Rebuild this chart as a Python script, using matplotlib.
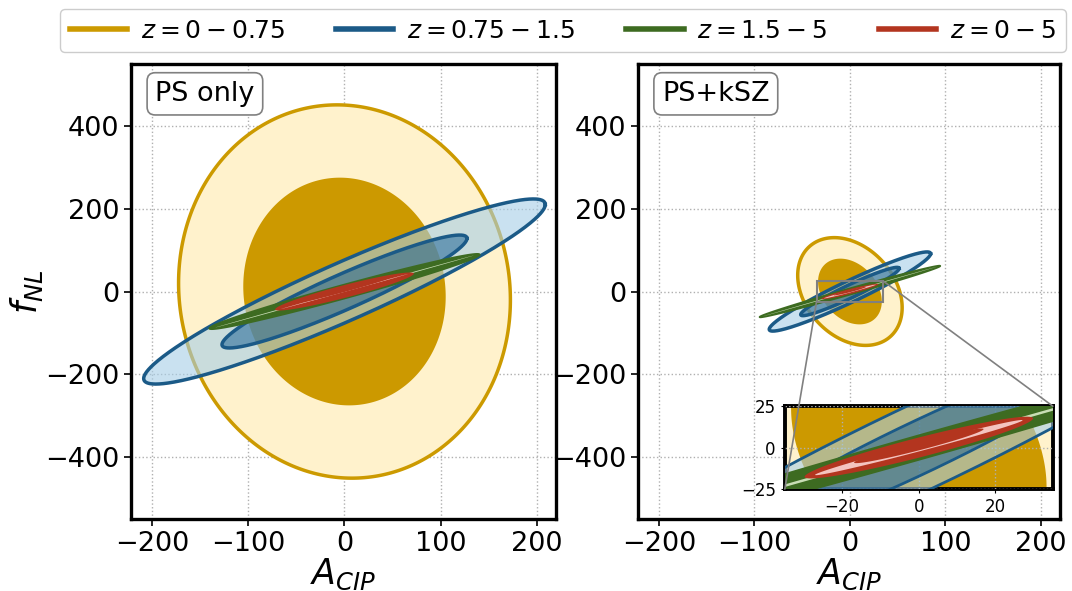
import numpy as np
import matplotlib
matplotlib.use("Agg")
import matplotlib.pyplot as plt
from matplotlib.lines import Line2D
from matplotlib.patches import Rectangle, ConnectionPatch

# ---------------- data ----------------
bin_labels = ['$z=0-0.75$', '$z=0.75-1.5$', '$z=1.5-5$', '$z=0-5$']

# Gaussian (Fisher) ellipse parameters: sigma(A_CIP), sigma(f_NL), correlation
ps_sigA = [69.4, 84.0, 56.5, 29.0]
ps_sigF = [181.5, 90.0, 36.5, 18.5]
ps_rho = [-0.045, 0.94, 0.983, 0.94]

kz_sigA = [22.0, 34.0, 38.0, 12.0]
kz_sigF = [52.4, 38.5, 25.0, 7.5]
kz_rho = [-0.30, 0.955, 0.993, 0.945]

# non-Gaussian inner features of the z=0-5 and z=1.5-5 contours
ps_red_inner = [26.5, 17.0, 0.9998]     # sigA, sigF, rho (pink sliver)
ps_red_core = [18.0, 11.5, 0.99]
kz_red_inner = [10.9, 6.7, 0.99]
kz_red_core = [6.8, 4.2, 0.965]
ps_green_inner = [54.0, 35.0, 0.9999]
kz_green_inner = [36.5, 24.0, 0.9999]

xticks = [-200, -100, 0, 100, 200]
yticks = [-400, -200, 0, 200, 400]
inset_xticks = [-20, 0, 20]
inset_yticks = [-25, 0, 25]
zoom_box = [-35, 35, -25, 25]

# ---------------- style ----------------
K1 = np.sqrt(2.30)
K2 = np.sqrt(6.18)
line_cols = ['#cc9a00', '#1b5a87', '#3d6b21', '#b3351f']

def ellipse(sa, sf, rho, k, n=500):
    t = np.linspace(0, 2 * np.pi, n)
    x = k * sa * np.cos(t)
    y = k * sf * (rho * np.cos(t) + np.sqrt(1 - rho ** 2) * np.sin(t))
    return x, y

def draw(ax, sigA, sigF, rho, red_inner, red_core, green_inner, lw=2.5):
    # z = 0 - 0.75
    x, y = ellipse(sigA[0], sigF[0], rho[0], K2)
    ax.fill(x, y, fc='#fff2cc', ec=line_cols[0], lw=lw, zorder=2)
    x, y = ellipse(sigA[0], sigF[0], rho[0], K1)
    ax.fill(x, y, fc='#cc9900', ec='none', zorder=2)
    # z = 0.75 - 1.5
    x, y = ellipse(sigA[1], sigF[1], rho[1], K2)
    ax.fill(x, y, fc='#a6cee7', alpha=0.6, ec='none', zorder=3)
    ax.plot(x, y, color=line_cols[1], lw=lw, zorder=3)
    x, y = ellipse(sigA[1], sigF[1], rho[1], K1)
    ax.fill(x, y, fc='#1f6496', alpha=0.55, ec='none', zorder=3)
    ax.plot(x, y, color=line_cols[1], lw=lw, zorder=3)
    # z = 1.5 - 5
    x, y = ellipse(sigA[2], sigF[2], rho[2], K2)
    ax.fill(x, y, fc=line_cols[2], ec=line_cols[2], lw=1.4, zorder=4)
    x, y = ellipse(*green_inner, K2)
    ax.fill(x, y, fc='#c9ddb5', ec='none', zorder=4)
    # z = 0 - 5
    x, y = ellipse(sigA[3], sigF[3], rho[3], K2)
    ax.fill(x, y, fc=line_cols[3], ec='none', zorder=5)
    x, y = ellipse(*red_inner, K2)
    ax.fill(x, y, fc='#f4c4c0', ec='none', zorder=5)
    x, y = ellipse(*red_core, K2)
    ax.fill(x, y + red_core[1] * 0.25, fc=line_cols[3], ec='none', zorder=5)

fig = plt.figure(figsize=(10.72, 5.91), dpi=100)
ax1 = fig.add_axes([0.1222, 0.1218, 0.3965, 0.7699])
ax2 = fig.add_axes([0.5951, 0.1218, 0.3937, 0.7699])

for ax, sA, sF, r, ri, rc, gi, name in [
        (ax1, ps_sigA, ps_sigF, ps_rho, ps_red_inner, ps_red_core, ps_green_inner, 'PS only'),
        (ax2, kz_sigA, kz_sigF, kz_rho, kz_red_inner, kz_red_core, kz_green_inner, 'PS+kSZ')]:
    draw(ax, sA, sF, r, ri, rc, gi)
    ax.set_xlim(-222, 220)
    ax.set_ylim(-550, 550)
    ax.set_xticks(xticks)
    ax.set_yticks(yticks)
    ax.tick_params(labelsize=19.5, width=1.2, length=5)
    ax.grid(True, ls=':', color='#b0b0b0', lw=1.0, zorder=0)
    ax.set_axisbelow(True)
    for s in ax.spines.values():
        s.set_linewidth(2.4)
    ax.set_xlabel('$A_{CIP}$', fontsize=25, labelpad=0)
    ax.text(0.057, 0.963, name, transform=ax.transAxes, fontsize=19.5,
            ha='left', va='top', zorder=10,
            bbox=dict(boxstyle='round,pad=0.3', fc='white', ec='gray', lw=1.2))

ax1.set_ylabel('$f_{NL}$', fontsize=25, labelpad=0)

# inset
axins = ax2.inset_axes([0.348, 0.066, 0.635, 0.182])
draw(axins, kz_sigA, kz_sigF, kz_rho, kz_red_inner, kz_red_core, kz_green_inner, lw=2.0)
axins.set_xlim(zoom_box[0], zoom_box[1])
axins.set_ylim(zoom_box[2], zoom_box[3])
axins.set_xticks(inset_xticks)
axins.set_yticks(inset_yticks)
axins.tick_params(labelsize=12, length=3)
axins.grid(True, ls=':', color='#b0b0b0', lw=1.0)
axins.set_axisbelow(False)
for s in axins.spines.values():
    s.set_linewidth(2.8)

ax2.add_patch(Rectangle((zoom_box[0], zoom_box[2]), zoom_box[1] - zoom_box[0],
                        zoom_box[3] - zoom_box[2], fc='none', ec='gray', lw=1.5, zorder=8))
for (xa, ya), (xb, yb) in [((zoom_box[0], zoom_box[2]), (0, 0)),
                           ((zoom_box[1], zoom_box[3]), (1, 1))]:
    cp = ConnectionPatch(xyA=(xa, ya), coordsA=ax2.transData,
                         xyB=(xb, yb), coordsB=axins.transAxes,
                         color='gray', lw=1.2, zorder=20)
    fig.add_artist(cp)

handles = [Line2D([], [], color=c, lw=4) for c in line_cols]
fig.legend(handles, bin_labels, loc='upper center', bbox_to_anchor=(0.525, 0.997),
           ncol=4, fontsize=18, handlelength=2.3, handletextpad=0.55,
           columnspacing=2.05, borderpad=0.38, borderaxespad=0.3, framealpha=1.0)

fig.savefig('out.png', dpi=100)
